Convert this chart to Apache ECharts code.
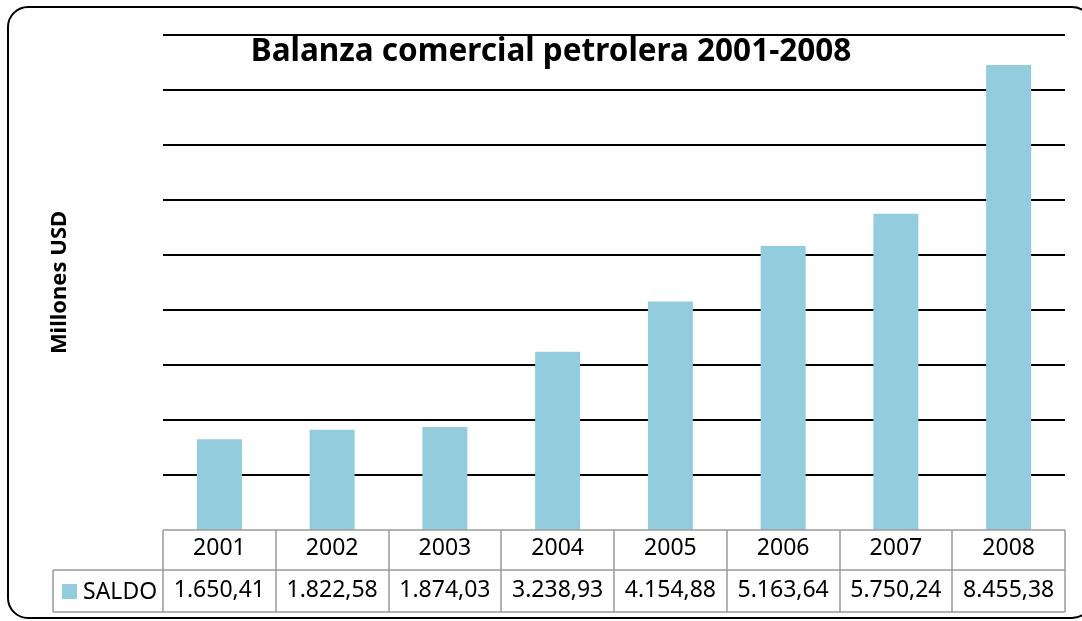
<!DOCTYPE html>
<html>
<head>
<meta charset="utf-8">
<script src="https://cdn.jsdelivr.net/npm/echarts@6/dist/echarts.min.js"></script>
<style>
  body { margin: 0; background: #fff; }
  #main { width: 1082px; height: 621px; }
</style>
</head>
<body>
<div id="main"></div>
<script>
var years = ['2001', '2002', '2003', '2004', '2005', '2006', '2007', '2008'];
var saldo = [1650.41, 1822.58, 1874.03, 3238.93, 4154.88, 5163.64, 5750.24, 8455.38];
var seriesName = 'SALDO';

// 1650.41 -> "1.650,41"
function fmt(v) {
  var parts = v.toFixed(2).split('.');
  var ent = parts[0].replace(/\B(?=(\d{3})+(?!\d))/g, '.');
  return ent + ',' + parts[1];
}

var gridL = 163, gridR = 17, gridT = 35, gridB = 91;
var barColor = '#93CDDD';
var tableColor = '#9a9a9a';
var font = '"Noto Sans", sans-serif';

var myChart = echarts.init(document.getElementById('main'));

var option = {
  animation: false,
  title: {
    text: 'Balanza comercial petrolera 2001-2008',
    left: 546, top: 31, textAlign: 'center',
    textStyle: { fontFamily: font, fontSize: 31.5, fontWeight: 'bold', color: '#000' }
  },
  grid: { left: gridL, right: gridR, top: gridT, bottom: gridB },
  xAxis: [{
    type: 'category',
    data: years,
    position: 'bottom',
    axisLine: { show: false },
    axisTick: { show: false },
    axisLabel: { interval: 0, hideOverlap: false, margin: 7, fontFamily: font, fontSize: 23, color: '#000' }
  }, {
    type: 'category',
    data: saldo.map(fmt),
    position: 'bottom',
    offset: 42,
    axisLine: { show: false },
    axisTick: { show: false },
    axisLabel: { interval: 0, hideOverlap: false, margin: 7, fontFamily: font, fontSize: 23, color: '#000' }
  }],
  yAxis: {
    type: 'value',
    min: 0, max: 9000, interval: 1000,
    name: 'Millones USD',
    nameLocation: 'middle',
    nameGap: 92,
    nameTextStyle: { fontFamily: font, fontSize: 22, fontWeight: 'bold', color: '#000' },
    axisLine: { show: false },
    axisTick: { show: false },
    axisLabel: { show: false },
    splitLine: { showMinLine: false, lineStyle: { color: '#000', width: 2 } }
  },
  series: [{
    name: seriesName,
    type: 'bar',
    data: saldo,
    barWidth: 45,
    itemStyle: { color: barColor }
  }]
};

myChart.setOption(option);

// data table lines, legend key and outer frame
var W = 1082, H = 621;
var x0 = gridL, x1 = W - gridR;
var yTop = H - gridB, yMid = yTop + 40, yBot = yTop + 82;
var legL = 53;
var step = (x1 - x0) / years.length;
var lw = { stroke: tableColor, lineWidth: 1.5 };
var g = [];
g.push({ type: 'line', shape: { x1: x0, y1: yTop, x2: x1, y2: yTop }, style: lw, z: 10 });
g.push({ type: 'line', shape: { x1: legL, y1: yMid, x2: x1, y2: yMid }, style: lw, z: 10 });
g.push({ type: 'line', shape: { x1: legL, y1: yBot, x2: x1, y2: yBot }, style: lw, z: 10 });
g.push({ type: 'line', shape: { x1: legL, y1: yMid, x2: legL, y2: yBot }, style: lw, z: 10 });
for (var i = 0; i <= years.length; i++) {
  var x = Math.round(x0 + i * step);
  g.push({ type: 'line', shape: { x1: x, y1: yTop, x2: x, y2: yBot }, style: lw, z: 10 });
}
g.push({ type: 'rect', shape: { x: 62, y: 584, width: 15, height: 15 }, style: { fill: barColor }, z: 10 });
g.push({ type: 'text', x: 83, y: 592, style: {
  text: seriesName, fontFamily: font, fontSize: 23, fill: '#000', verticalAlign: 'middle'
}, z: 10 });
g.push({ type: 'rect', shape: { x: 8, y: 7, width: 1084, height: 611, r: 20 },
  style: { fill: null, stroke: '#000', lineWidth: 2 }, z: 10 });

myChart.setOption({ graphic: g });
</script>
</body>
</html>
